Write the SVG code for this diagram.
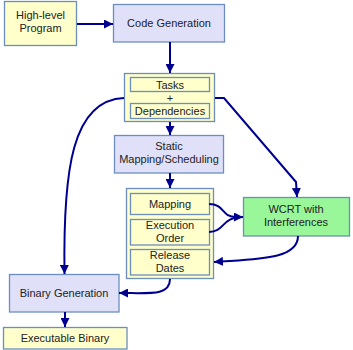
<svg xmlns="http://www.w3.org/2000/svg" width="353" height="350" viewBox="0 0 353 350">
<defs>
<marker id="ah" viewBox="0 0 10 10" refX="10" refY="5" markerWidth="4.5" markerHeight="4.5" orient="auto" markerUnits="strokeWidth">
<path d="M0,0 L10,5 L0,10 Z" fill="#000090"/>
</marker>
<style>
.y{fill:#ffffcc;stroke:#6c8ebf;stroke-width:1.3}
.b{fill:#e0e1f9;stroke:#6c8ebf;stroke-width:1.3}
.g{fill:#99f799;stroke:#6c8ebf;stroke-width:1.3}
text{font-family:"Liberation Sans",Arial,sans-serif;font-size:11px;fill:#222;text-anchor:middle}
.c{fill:none;stroke:#000090;stroke-width:2}
</style>
</defs>
<g id="highlevel"><rect class="y" x="4.5" y="1.5" width="72" height="44"/><text x="40.5" y="19">High-level</text><text x="40.5" y="32">Program</text></g>
<g id="codegen"><rect class="b" x="113.5" y="4.5" width="111" height="37.5"/><text x="169" y="27">Code Generation</text></g>
<g id="tasksdeps"><rect class="y" x="124.5" y="73.5" width="90" height="48"/>
<rect class="y" x="130.5" y="77.5" width="79" height="14"/><text x="170" y="88.5">Tasks</text>
<text x="170" y="102">+</text>
<rect class="y" x="130.5" y="103.5" width="79" height="15"/><text x="170" y="115">Dependencies</text></g>
<g id="static"><rect class="b" x="114.5" y="135.5" width="109" height="37.5"/><text x="169" y="150">Static</text><text x="169" y="163">Mapping/Scheduling</text></g>
<g id="results"><rect class="y" x="126.5" y="188.5" width="87" height="90"/>
<rect class="y" x="130.5" y="193.5" width="79" height="21"/><text x="170" y="208">Mapping</text>
<rect class="y" x="130.5" y="219.5" width="79" height="25.5"/><text x="170" y="229">Execution</text><text x="170" y="242">Order</text>
<rect class="y" x="130.5" y="249.5" width="79" height="25.5"/><text x="170" y="259">Release</text><text x="170" y="272">Dates</text></g>
<g id="wcrt"><rect class="g" x="243.5" y="197.5" width="106" height="38.5"/><text x="296" y="213">WCRT with</text><text x="296" y="226">Interferences</text></g>
<g id="bingen"><rect class="b" x="9.5" y="274.5" width="109.5" height="37.5"/><text x="64" y="297">Binary Generation</text></g>
<g id="exec"><rect class="y" x="3.5" y="327.5" width="123.5" height="21.5"/><text x="65" y="342">Executable Binary</text></g>
<g id="connectors">
<path class="c" d="M77,24 L113,24" marker-end="url(#ah)"/>
<path class="c" d="M170,42 L170,73" marker-end="url(#ah)"/>
<path class="c" d="M170,122 L170,135" marker-end="url(#ah)"/>
<path class="c" d="M170,173 L170,188" marker-end="url(#ah)"/>
<path class="c" d="M124,98 C72,100 63,170 64.5,274" marker-end="url(#ah)"/>
<path class="c" d="M215,98 L224,98 L296,182 L297,197" marker-end="url(#ah)"/>
<path class="c" d="M209,204 C225,204 221,217 236,217"/>
<path class="c" d="M209,232 C225,232 221,217 243,217" marker-end="url(#ah)"/>
<path class="c" d="M298,236 C298,260 255,259 214,262" marker-end="url(#ah)"/>
<path class="c" d="M170,279 C170,296 150,293 119,293" marker-end="url(#ah)"/>
<path class="c" d="M65,312 L65,327" marker-end="url(#ah)"/>
</g>
</svg>
